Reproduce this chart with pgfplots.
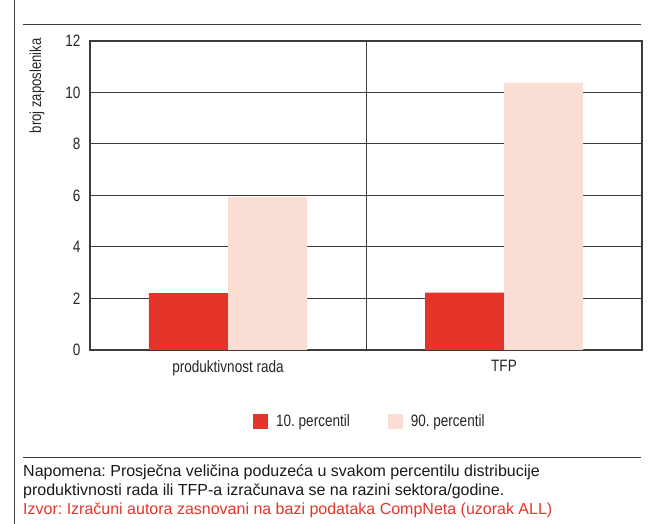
\documentclass[border=0pt]{standalone}
\usepackage{fontspec}
\setmainfont{Liberation Sans}
\newfontfamily\cond{Liberation Sans}[FakeStretch=0.82]
\usepackage{pgfplots}
\pgfplotsset{compat=1.18}
\frenchspacing

\definecolor{hnbred}{RGB}{229,52,41}
\definecolor{hnbpink}{RGB}{251,222,211}
\definecolor{rule}{RGB}{60,60,60}

\begin{document}
\begin{tikzpicture}[x=1pt,y=1pt]
\useasboundingbox (0,0) rectangle (654,524);
% page frame pieces
\draw[rule, line width=0.8pt] (14,0) -- (14,524);
\draw[rule, line width=1pt] (23,499) -- (641,499);
\draw[rule, line width=1pt] (23,66) -- (641,66);

\begin{axis}[
  at={(90pt,174pt)}, anchor=south west,
  scale only axis,
  width=552pt, height=309pt,
  ybar=0pt,
  bar width=79pt,
  ymin=0, ymax=12,
  ytick={0,2,...,12},
  xmin=-0.5, xmax=1.5,
  xtick={0,1},
  xticklabels={produktivnost rada, TFP},
  extra x ticks={0.5},
  extra x tick labels={},
  extra x tick style={grid=major},
  major tick length=0pt,
  ymajorgrids,
  grid style={rule, line width=1pt},
  axis line style={rule, line width=1.3pt},
  /pgf/number format/assume math mode=true,
  ticklabel style={font=\cond\fontsize{16.5}{19}\selectfont, text=black!85},
  yticklabel style={xshift=-6pt},
  xticklabel style={yshift=-7pt},
  ylabel={broj zaposlenika},
  ylabel style={font=\cond\fontsize{16}{18}\selectfont, text=black!85,
    at={(axis description cs:-0.096,1.02)}, anchor=east},
  legend columns=2,
  legend style={draw=none, at={(0.507,-0.23)}, anchor=center,
    font=\cond\fontsize{16.5}{19}\selectfont, text=black!85,
    /tikz/every odd column/.append style={column sep=6pt},
    /tikz/every even column/.append style={column sep=36pt}},
  legend image code/.code={\fill[#1] (0pt,-7.5pt) rectangle (15pt,7.5pt);},
]
\addplot[fill=hnbred, draw=none] coordinates {(0,2.21) (1,2.23)};
\addplot[fill=hnbpink, draw=none] coordinates {(0,5.95) (1,10.38)};
\legend{10. percentil, 90. percentil}
\end{axis}

\node[anchor=base west, inner sep=0pt, font=\fontsize{16}{19}\selectfont, text=black!90] at (23,47) {Napomena: Prosječna veličina poduzeća u svakom percentilu distribucije};
\node[anchor=base west, inner sep=0pt, font=\fontsize{16}{19}\selectfont, text=black!90] at (23,28) {produktivnosti rada ili TFP-a izračunava se na razini sektora/godine.};
\node[anchor=base west, inner sep=0pt, font=\fontsize{16}{19}\selectfont, text=hnbred] at (23,9) {Izvor: Izračuni autora zasnovani na bazi podataka CompNeta (uzorak ALL)};
\end{tikzpicture}
\end{document}
